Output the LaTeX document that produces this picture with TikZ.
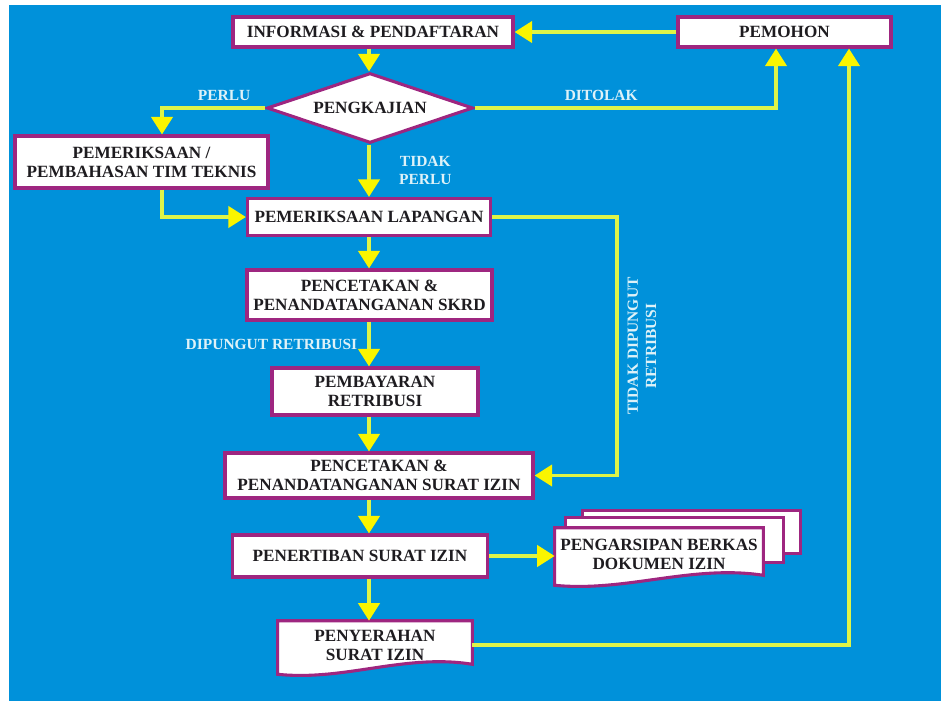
\documentclass[tikz,border=0pt]{standalone}
\usepackage{fontspec}
\setmainfont{Liberation Serif}
\usetikzlibrary{arrows.meta}
\usetikzlibrary{shapes.geometric}
\usetikzlibrary{calc}
\usetikzlibrary{backgrounds}

\definecolor{bgblue}{RGB}{0,145,218}
\definecolor{boxedge}{RGB}{158,38,128}
\definecolor{boxtext}{RGB}{30,28,32}
\definecolor{flowline}{RGB}{222,244,72}
\definecolor{flowtip}{RGB}{250,245,0}
\definecolor{lbltext}{RGB}{222,242,248}

\begin{document}
\begin{tikzpicture}
[x=0.025cm,y=-0.025cm,%
  box/.style={rectangle,draw=boxedge,line width=2.2pt,fill=white,inner sep=2pt,align=center,%
    text=boxtext,font=\fontsize{12.2}{13.5}\selectfont\bfseries},%
  doc/.style={rectangle,inner sep=2pt,align=center,text=boxtext,font=\fontsize{12.2}{13.5}\selectfont\bfseries},%
  docline/.style={draw=boxedge,line width=2.2pt,fill=white},%
  flow/.style={draw=flowline,line width=2.8pt,-{Triangle[width=15pt,length=12.5pt,color=flowtip]}},%
  lbl/.style={text=lbltext,inner sep=1pt,font=\fontsize{11}{13}\selectfont\bfseries}]
\useasboundingbox (0,0) rectangle (941,700);
\begin{scope}[on background layer]
  \fill[white] (0,0) rectangle (941,700);
  \fill[bgblue] (9,5) rectangle (945,705);
\end{scope}
% columns of the connectors
\coordinate (col) at (369,0);
\coordinate (tk) at (162,0);
\coordinate (pa) at (776,0);
\coordinate (pb) at (849,0);
\coordinate (r1) at (617,346);

\node[box,minimum width=7cm,minimum height=0.75cm] (info) at (373,32) {INFORMASI \& PENDAFTARAN};
\node[box,minimum width=5.325cm,minimum height=0.75cm] (pemohon) at (784.5,32) {PEMOHON};
\node[box,diamond,aspect=2.9,inner sep=0pt,minimum width=5.15cm,minimum height=1.75cm] (kaji) at (370,108) {PENGKAJIAN};
\node[box,minimum width=6.325cm,minimum height=1.3cm] (teknis) at (141.5,162) {PEMERIKSAAN /\\PEMBAHASAN TIM TEKNIS};
\node[box,minimum width=6.075cm,minimum height=0.925cm] (lapangan) at (369,217) {PEMERIKSAAN LAPANGAN};
\node[box,minimum width=6.125cm,minimum height=1.25cm] (skrd) at (369.5,295) {PENCETAKAN \&\\PENANDATANGANAN SKRD};
\node[box,minimum width=5.15cm,minimum height=1.175cm] (bayar) at (375,391.5) {PEMBAYARAN\\RETRIBUSI};
\node[box,minimum width=7.7cm,minimum height=1.125cm] (izin) at (379,475.5) {PENCETAKAN \&\\PENANDATANGANAN SURAT IZIN};
\node[box,minimum width=6.375cm,minimum height=1.05cm] (tertib) at (360,556) {PENERTIBAN SURAT IZIN};
\node[doc,minimum width=5.2cm,minimum height=1.3cm] (arsip) at (659,554) {PENGARSIPAN BERKAS\\DOKUMEN IZIN};
\node[doc,minimum width=4.85cm,minimum height=1.2cm] (serah) at (375,645) {PENYERAHAN\\SURAT IZIN};

% document outlines
\begin{scope}[on background layer]
  \draw[docline] ($(arsip.north west)+(28,-17)$) rectangle ($(arsip.south east)+(37,-27)$);
  \draw[docline] ($(arsip.north west)+(11,-10)$) rectangle ($(arsip.south east)+(20,-18)$);
  \draw[docline] (arsip.north west) -- (arsip.north east) -- ($(arsip.south east)+(0,-5)$)
    .. controls ($(arsip.south)+(33,-16)$) and ($(arsip.south)+(-33,12)$) .. ($(arsip.south west)+(0,5)$) -- cycle;
  \draw[docline] (serah.north west) -- (serah.north east) -- ($(serah.south east)+(0,-5)$)
    .. controls ($(serah.south)+(30,-16)$) and ($(serah.south)+(-30,12)$) .. ($(serah.south west)+(0,5)$) -- cycle;
\end{scope}

\draw[flow] (pemohon) -- (info);
\draw[flow] (col |- info.south) -- (col |- kaji.north);
\draw[flow] (kaji.west) -| (tk |- teknis.north) node[lbl,pos=0.2,above=3pt] (lblperlu) {PERLU};
\draw[flow] (kaji.east) -| (pa |- pemohon.south) node[lbl,pos=0.21,above=3pt] (lbltolak) {DITOLAK};
\draw[flow] (col |- kaji.south) -- (col |- lapangan.north)
  node[lbl,midway,right=19pt,align=center] (lbltidak) {TIDAK\\PERLU};
\draw[flow] (tk |- teknis.south) |- (lapangan.west);
\draw[flow] (lapangan.east) -| (r1) |- (izin.east);
\node[lbl,rotate=90,align=center] (lblbebas) at (642,346) {TIDAK DIPUNGUT\\RETRIBUSI};
\draw[flow] (col |- lapangan.south) -- (col |- skrd.north);
\draw[flow] (col |- skrd.south) -- (col |- bayar.north)
  node[lbl,midway,left=6pt] (lblpungut) {DIPUNGUT RETRIBUSI};
\draw[flow] (col |- bayar.south) -- (col |- izin.north);
\draw[flow] (col |- izin.south) -- (col |- tertib.north);
\draw[flow] (tertib.east) -- (tertib.east -| arsip.west);
\draw[flow] (col |- tertib.south) -- (col |- serah.north);
\draw[flow] (serah.east) -| (pb |- pemohon.south);
\end{tikzpicture}
\end{document}
